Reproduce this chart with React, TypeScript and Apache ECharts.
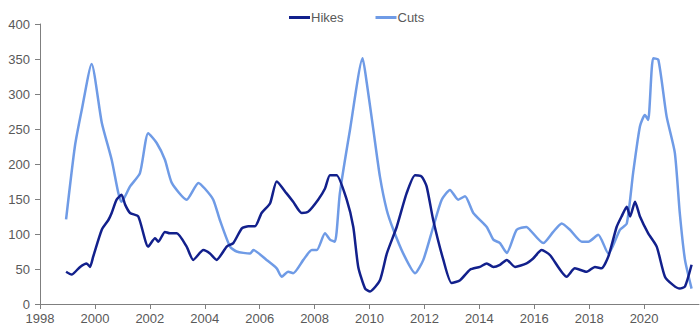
import React, { useEffect, useRef } from "react";
import * as echarts from "echarts";

const hikeDates = [1998.95, 1999.15, 1999.46, 1999.7, 1999.82, 1999.94, 2000.25, 2000.49, 2000.61, 2000.79, 2000.97, 2001.1, 2001.28, 2001.58, 2001.94, 2002.19, 2002.31, 2002.55, 2002.73, 2002.98, 2003.34, 2003.58, 2003.95, 2004.19, 2004.43, 2004.8, 2005.04, 2005.35, 2005.59, 2005.83, 2006.07, 2006.38, 2006.62, 2006.98, 2007.22, 2007.53, 2007.77, 2008.13, 2008.38, 2008.56, 2008.8, 2009.17, 2009.41, 2009.59, 2009.84, 2010.02, 2010.38, 2010.63, 2010.99, 2011.35, 2011.66, 2011.9, 2012.08, 2012.32, 2012.69, 2012.99, 2013.3, 2013.66, 2014.02, 2014.27, 2014.51, 2014.75, 2015.0, 2015.3, 2015.72, 2015.96, 2016.27, 2016.57, 2017.18, 2017.48, 2017.91, 2018.21, 2018.45, 2018.7, 2019.0, 2019.18, 2019.37, 2019.49, 2019.67, 2019.85, 2020.15, 2020.46, 2020.76, 2021.06, 2021.3, 2021.49, 2021.73];
const hikeValues = [46, 42, 53, 58, 53, 68, 106, 120, 130, 149, 156, 142, 130, 125, 82, 94, 89, 103, 101, 101, 82, 63, 77, 72, 63, 82, 87, 108, 111, 111, 130, 144, 175, 158, 146, 130, 132, 149, 165, 184, 184, 149, 110, 53, 22, 18, 34, 72, 110, 158, 184, 182, 168, 120, 63, 30, 34, 49, 53, 58, 53, 56, 63, 53, 58, 65, 77, 70, 39, 51, 46, 53, 51, 68, 110, 125, 139, 125, 146, 125, 101, 82, 39, 27, 22, 25, 56];

const cutDates = [1998.95, 1999.27, 1999.52, 1999.88, 2000.25, 2000.61, 2000.85, 2000.97, 2001.28, 2001.64, 2001.94, 2002.25, 2002.55, 2002.8, 2003.34, 2003.77, 2004.0, 2004.31, 2004.55, 2004.92, 2005.16, 2005.65, 2005.77, 2006.25, 2006.62, 2006.8, 2007.04, 2007.22, 2007.59, 2007.9, 2008.08, 2008.38, 2008.56, 2008.74, 2008.92, 2009.29, 2009.75, 2009.9, 2010.14, 2010.38, 2010.63, 2010.87, 2011.23, 2011.66, 2011.96, 2012.32, 2012.63, 2012.93, 2013.23, 2013.48, 2013.78, 2014.27, 2014.51, 2014.75, 2015.0, 2015.36, 2015.72, 2015.84, 2016.33, 2016.69, 2017.0, 2017.3, 2017.73, 2017.97, 2018.33, 2018.7, 2019.12, 2019.37, 2019.6, 2019.85, 2020.03, 2020.15, 2020.33, 2020.52, 2020.82, 2021.12, 2021.3, 2021.49, 2021.73];
const cutValues = [121, 225, 277, 343, 259, 206, 159, 146, 168, 187, 244, 230, 206, 173, 149, 173, 165, 149, 120, 82, 75, 72, 77, 63, 51, 39, 46, 44, 63, 77, 77, 101, 92, 89, 158, 249, 351, 316, 249, 182, 134, 106, 72, 44, 63, 110, 149, 163, 149, 154, 130, 110, 92, 87, 73, 106, 110, 106, 87, 103, 115, 106, 89, 89, 99, 72, 106, 115, 187, 254, 270, 263, 351, 349, 268, 216, 130, 63, 22];

const yTicks = { min: 0, max: 400, interval: 50 };
const xTicks = { min: 1998, max: 2022, interval: 2 };

const zip = (xs: number[], ys: number[]) => xs.map((x, i) => [x, ys[i]]);

export default function App() {
  const ref = useRef<HTMLDivElement>(null);
  useEffect(() => {
    if (!ref.current) return;
    const chart = echarts.init(ref.current, undefined, { renderer: "svg" });
    const axisColor = "#7f7f7f";
    const labelColor = "#595959";
    chart.setOption({
      animation: false,
      textStyle: { fontFamily: "Liberation Sans, Arial, sans-serif" },
      legend: {
        top: 6,
        left: 284,
        itemWidth: 21,
        itemHeight: 3,
        itemGap: 32,
        icon: "rect",
        textStyle: { color: labelColor, fontSize: 13, padding: [0, 0, 0, -4] },
        data: ["Hikes", "Cuts"],
      },
      grid: { left: 40, right: 1, top: 24, bottom: 31, containLabel: false },
      xAxis: {
        type: "value",
        min: xTicks.min,
        max: xTicks.max,
        interval: xTicks.interval,
        axisLine: { show: true, lineStyle: { color: axisColor, width: 1 } },
        axisTick: { show: true, length: 5, lineStyle: { color: axisColor } },
        axisLabel: { color: labelColor, fontSize: 13, margin: 8, showMaxLabel: false, formatter: (v: number) => String(v) },
        splitLine: { show: false },
      },
      yAxis: {
        type: "value",
        min: yTicks.min,
        max: yTicks.max,
        interval: yTicks.interval,
        axisLine: { show: true, lineStyle: { color: axisColor, width: 1 } },
        axisTick: { show: true, length: 5, lineStyle: { color: axisColor } },
        axisLabel: { color: labelColor, fontSize: 13, margin: 10 },
        splitLine: { show: false },
      },
      series: [
        {
          name: "Hikes",
          type: "line",
          data: zip(hikeDates, hikeValues),
          showSymbol: false,
          smooth: 0.2,
          lineStyle: { color: "#12208c", width: 2.5 },
          itemStyle: { color: "#12208c" },
          z: 3,
        },
        {
          name: "Cuts",
          type: "line",
          data: zip(cutDates, cutValues),
          showSymbol: false,
          smooth: 0.2,
          lineStyle: { color: "#6f9be6", width: 2.5 },
          itemStyle: { color: "#6f9be6" },
          z: 2,
        },
      ],
    });
    return () => chart.dispose();
  }, []);
  return <div ref={ref} style={{ width: 700, height: 335, position: "absolute", left: 0, top: 0 }} />;
}
